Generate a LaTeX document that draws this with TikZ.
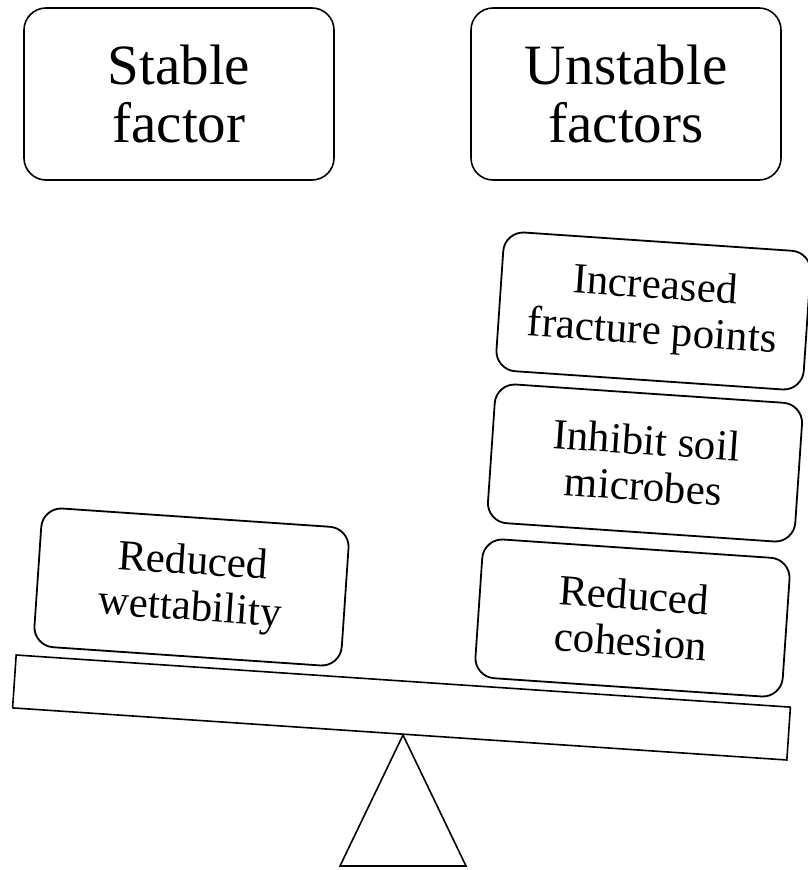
\documentclass[tikz,border=0pt]{standalone}
\usepackage{fontspec}
\setmainfont{Liberation Serif}
\begin{document}
\begin{tikzpicture}[x=1pt,y=-1pt,
  topbox/.style={draw, line width=1.6pt, rounded corners=22pt, minimum width=310pt, minimum height=172pt, align=center, font=\fontsize{57}{58}\selectfont, inner sep=0pt},
  factorbox/.style={draw, line width=1.8pt, rounded corners=20pt, minimum width=308pt, minimum height=139pt, align=center, font=\fontsize{43}{46}\selectfont, inner sep=0pt, rotate=-3.9},
  beamstyle/.style={draw, line width=1.6pt, minimum width=776pt, minimum height=53pt, inner sep=0pt, rotate=-3.85},
  fulcrum/.style={draw, line width=1.6pt}]
\useasboundingbox (0,0) rectangle (807,870);
\node[topbox] (stable) at (179,94) {Stable\\factor};
\node[topbox] (unstable) at (626,94) {Unstable\\factors};
\node[beamstyle] (beam) at (401.5,707.5) {};
\node[factorbox] (wett) at (191.5,587) {Reduced\\wettability};
\node[factorbox] (coh) at (632.5,618) {Reduced\\cohesion};
\node[factorbox] (inh) at (645,463) {Inhibit soil\\microbes};
\node[factorbox] (frac) at (653.5,311) {Increased\\fracture points};
\coordinate (apex) at (403,735);
\coordinate (bl) at (340,866);
\coordinate (br) at (466,866);
\draw[fulcrum] (apex) -- (bl) -- (br) -- cycle;
\end{tikzpicture}
\end{document}
